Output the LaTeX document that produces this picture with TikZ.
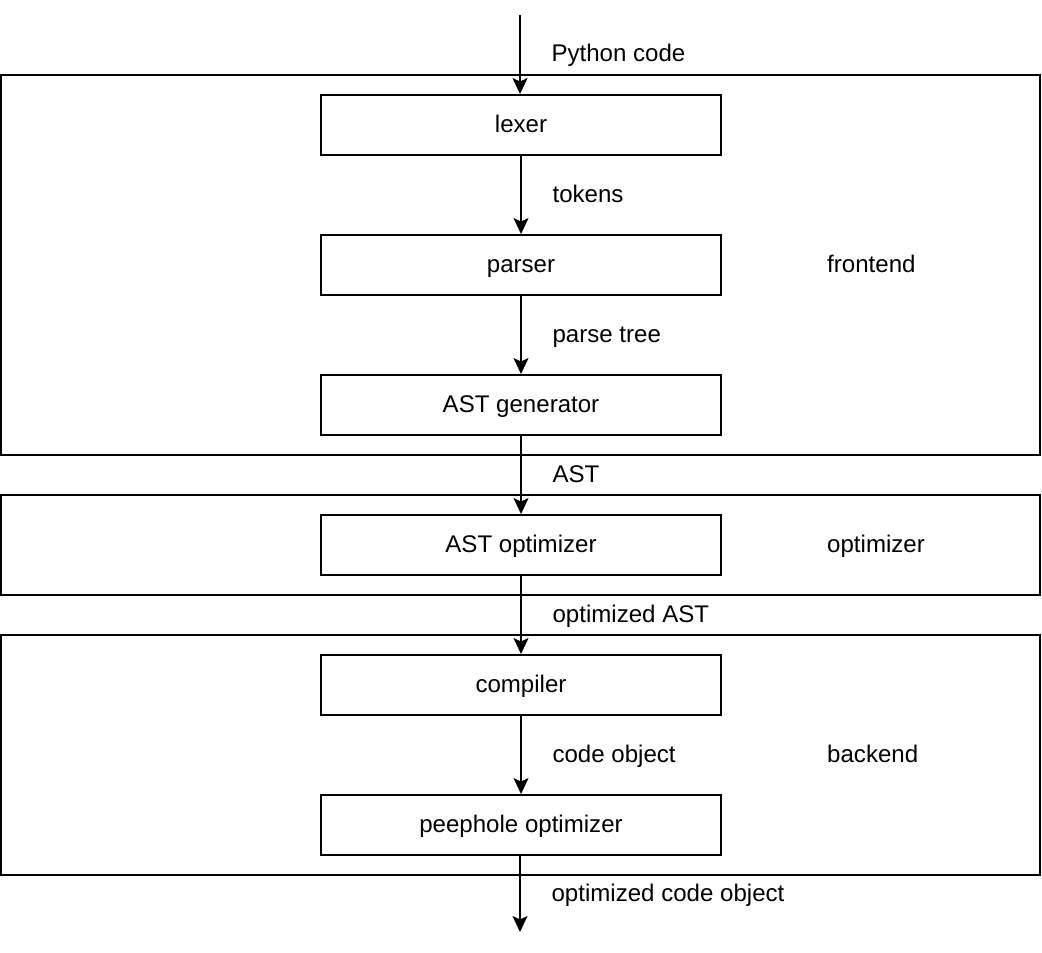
\documentclass[tikz,border=0pt]{standalone}
\usepackage{fontspec}
\setmainfont{Liberation Sans}
\usetikzlibrary{positioning,arrows.meta}

\tikzset{
  every node/.style={text height=1em, text depth=0.15em},
  stage/.style={draw, line width=1.1pt, minimum width=8cm, minimum height=1.2cm},
  group/.style={draw, line width=1.1pt, minimum width=20.78cm},
  flow/.style={line width=0.8pt, -{Stealth[length=0.32cm, width=0.3cm, inset=0.07cm]}},
  lbl/.style={midway, anchor=west, xshift=0.5cm}
}

\begin{document}
\begin{tikzpicture}[font=\fontsize{13.7}{16}\selectfont]
  \useasboundingbox (0,0) rectangle (20.84,-19.04);
  % the three phases
  \node[group, minimum height=7.6cm] (front) at (10.41,-5.3) {};
  \node[group, minimum height=2cm]   (opt)   at (10.41,-10.9) {};
  \node[group, minimum height=4.8cm] (back)  at (10.41,-15.1) {};
  \node[anchor=west] (frontlbl) at (16.42,-5.3)  {frontend};
  \node[anchor=west] (optlbl)   at (16.42,-10.9) {optimizer};
  \node[anchor=west] (backlbl)  at (16.42,-15.1) {backend};
  % stages
  \node[stage] (lexer)  at (10.42,-2.5)  {lexer};
  \node[stage] (parser) at (10.42,-5.3)  {parser};
  \node[stage] (astgen) at (10.42,-8.1)  {AST generator};
  \node[stage] (astopt) at (10.42,-10.9) {AST optimizer};
  \node[stage] (comp)   at (10.42,-13.7) {compiler};
  \node[stage] (peep)   at (10.42,-16.5) {peephole optimizer};
  \coordinate (src) at (10.4,-0.3);
  \coordinate (out) at (10.4,-18.64);
  % data passed between stages
  \draw[flow] (src) -- (lexer.north -| src) node[lbl] {Python code};
  \draw[flow] (lexer) -- (parser) node[lbl] {tokens};
  \draw[flow] (parser) -- (astgen) node[lbl] {parse tree};
  \draw[flow] (astgen) -- (astopt) node[lbl] {AST};
  \draw[flow] (astopt) -- (comp) node[lbl] {optimized AST};
  \draw[flow] (comp) -- (peep) node[lbl] {code object};
  \draw[flow] (peep.south -| out) -- (out) node[lbl] {optimized code object};
\end{tikzpicture}
\end{document}
